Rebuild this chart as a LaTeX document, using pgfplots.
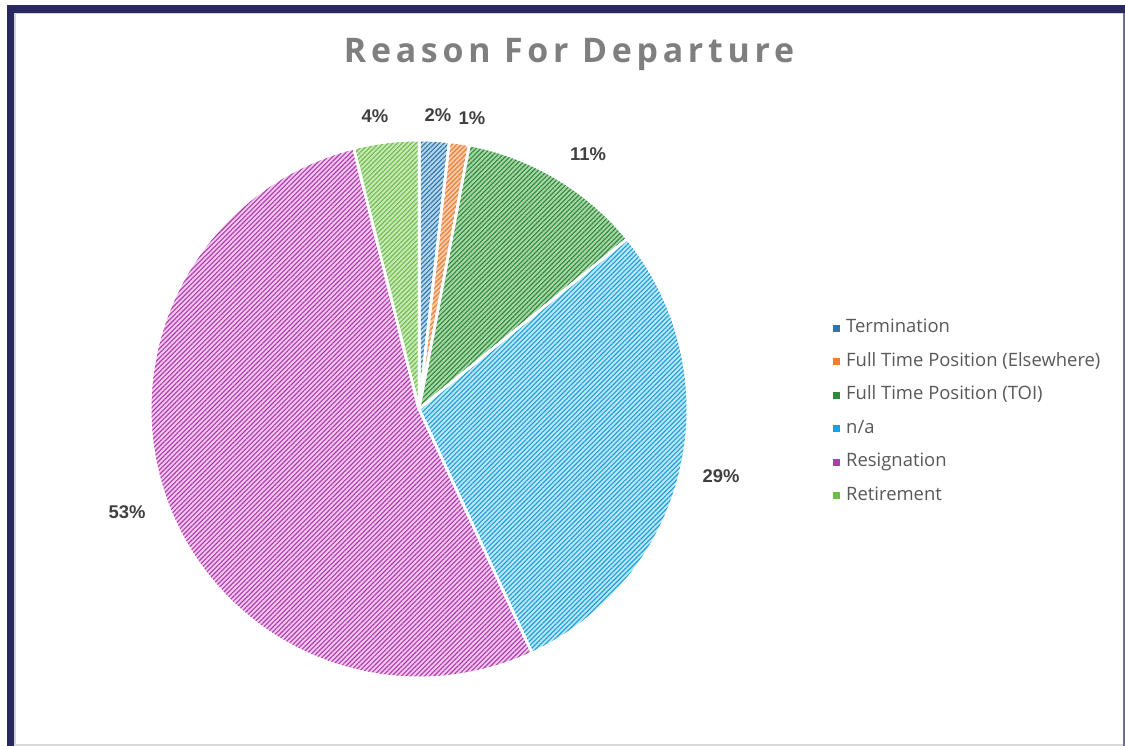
\documentclass[border=0pt]{standalone}
\usepackage{pgfplots}
\pgfplotsset{compat=1.18}
\usepackage{fontspec}
\setmainfont{Open Sans}
\newfontfamily\titlefont[LetterSpace=14]{Open Sans}
\newfontfamily\labelfont{Liberation Sans}
\usetikzlibrary{patterns.meta}

\definecolor{navy}{HTML}{29285F}
\definecolor{rline}{HTML}{6D6D9A}
\definecolor{titlegray}{HTML}{7F7F7F}
\definecolor{labgray}{HTML}{404040}
\definecolor{leggray}{HTML}{595959}
\definecolor{aL}{HTML}{B8D6EA}\definecolor{aD}{HTML}{2F77AE}
\definecolor{bL}{HTML}{F8CBAD}\definecolor{bD}{HTML}{ED7D31}
\definecolor{cL}{HTML}{A9D6A6}\definecolor{cD}{HTML}{2E8B3E}
\definecolor{dL}{HTML}{BEE6F8}\definecolor{dD}{HTML}{1AA0DC}
\definecolor{eL}{HTML}{F2C8EE}\definecolor{eD}{HTML}{B03AAE}
\definecolor{fL}{HTML}{C9E8B8}\definecolor{fD}{HTML}{6DBE4B}

% shares (percent) of each reason
\def\vA{1.8}  % Termination
\def\vB{1.2}  % Full Time Position (Elsewhere)
\def\vC{11.1} % Full Time Position (TOI)
\def\vD{29.0} % n/a
\def\vE{53.0} % Resignation
\def\vF{3.9}  % Retirement

\pgfmathsetmacro\aA{90}
\pgfmathsetmacro\aB{\aA-3.6*\vA}
\pgfmathsetmacro\aC{\aB-3.6*\vB}
\pgfmathsetmacro\aD{\aC-3.6*\vC}
\pgfmathsetmacro\aE{\aD-3.6*\vD}
\pgfmathsetmacro\aF{\aE-3.6*\vE}
\pgfmathsetmacro\aG{\aF-3.6*\vF}

\def\cx{419}\def\cy{337}\def\rr{269}

\newcommand{\pieslice}[4]{%
\addplot[forget plot, no markers, draw=white, line width=2.5bp, line join=round,
  preaction={fill=#3},
  preaction={pattern={Lines[angle=45,distance=3.3bp,line width=1.15bp]}, pattern color=#4},
  domain=#1:#2, samples=90, variable=\t]
  ({\cx+\rr*cos(\t)},{\cy+\rr*sin(\t)}) -- (axis cs:\cx,\cy) -- cycle;}

\newcommand{\legimg}[1]{\addlegendimage{legend image code/.code={\path[draw=none,fill=none] (0bp,0bp) -- (13bp,0bp); \fill[#1,draw=none] (0bp,-3.5bp) rectangle (7bp,3.5bp);}}}

\begin{document}
\begin{tikzpicture}
\useasboundingbox (0,0) rectangle (1125bp,746bp);
\begin{axis}[
  at={(0,0)}, anchor=origin,
  scale only axis, width=1125bp, height=746bp,
  xmin=0, xmax=1125, ymin=0, ymax=746,
  hide axis, clip=false,
  legend cell align=left,
  legend style={at={(axis cs:833,426.5)}, anchor=north west, draw=none, fill=none,
    inner sep=0pt, row sep=16.5bp, text=leggray,
    font=\fontsize{18.5}{21}\selectfont,
    nodes={inner sep=0pt, text height=13bp, text depth=4bp}},
]
% frame
\fill[white] (axis cs:0,0) rectangle (axis cs:1125,746);
\fill[navy] (axis cs:7,741) rectangle (axis cs:1125,733.3);
\fill[navy] (axis cs:7,0) rectangle (axis cs:14,741);
\fill[black!17] (axis cs:14,0) rectangle (axis cs:16.3,733.3);
\fill[black!17] (axis cs:14,733.3) rectangle (axis cs:1122.5,732.3);
\fill[rline] (axis cs:1122.5,0) rectangle (axis cs:1125,733.3);
\fill[black!15] (axis cs:14,0) rectangle (axis cs:1122.5,1.8);

\pieslice{\aA}{\aB}{aL}{aD}
\pieslice{\aB}{\aC}{bL}{bD}
\pieslice{\aC}{\aD}{cL}{cD}
\pieslice{\aD}{\aE}{dL}{dD}
\pieslice{\aE}{\aF}{eL}{eD}
\pieslice{\aF}{\aG}{fL}{fD}

\legimg{aD}\addlegendentry{Termination}
\legimg{bD}\addlegendentry{Full Time Position (Elsewhere)}
\legimg{cD}\addlegendentry{Full Time Position (TOI)}
\legimg{dD}\addlegendentry{n/a}
\legimg{eD}\addlegendentry{Resignation}
\legimg{fD}\addlegendentry{Retirement}

\node[font=\titlefont\bfseries\fontsize{34}{40}\selectfont, text=titlegray, anchor=base]
  at (axis cs:569,683.5) {Reason For Departure};

\begin{scope}[every node/.style={font=\labelfont\bfseries\fontsize{18.5}{21}\selectfont, text=labgray, anchor=center}]
\node at (axis cs:375,630) {4\%};
\node at (axis cs:438,631) {2\%};
\node at (axis cs:472,628) {1\%};
\node at (axis cs:588,592) {11\%};
\node at (axis cs:721,270) {29\%};
\node at (axis cs:127,234) {53\%};
\end{scope}
\end{axis}
\end{tikzpicture}
\end{document}
